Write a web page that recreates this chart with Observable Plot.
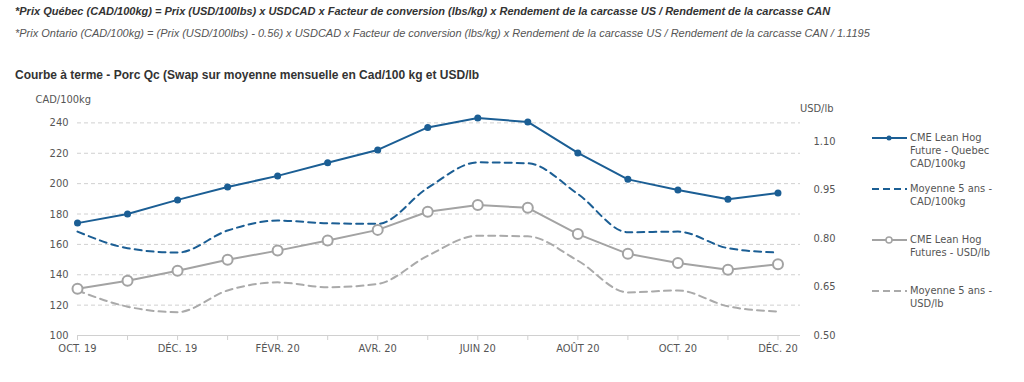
<!DOCTYPE html>
<html><head><meta charset="utf-8">
<script src="https://cdn.jsdelivr.net/npm/d3@7"></script>
<script src="https://cdn.jsdelivr.net/npm/@observablehq/plot@0.6"></script>
<style>
body{margin:0;background:#fff;width:1024px;height:382px;overflow:hidden;position:relative;font-family:"Liberation Sans",Arial,sans-serif;}
#h1{position:absolute;left:15px;top:5px;font-size:11px;font-weight:bold;font-style:italic;color:#333;white-space:nowrap;}
#h2{position:absolute;left:15px;top:27px;font-size:11px;font-style:italic;color:#555;white-space:nowrap;}
#title{position:absolute;left:15px;top:68px;font-size:12px;font-weight:bold;color:#333;white-space:nowrap;}
#chart{position:absolute;left:0;top:85px;}
.leg{position:absolute;left:872px;font-family:"DejaVu Sans Condensed","DejaVu Sans",sans-serif;font-size:11px;color:#555;line-height:13px;}
.leg svg{position:absolute;left:0;top:0;}
.leg div{position:absolute;left:38px;top:0;white-space:nowrap;}
</style></head>
<body>
<div id="h1">*Prix Québec (CAD/100kg) = Prix (USD/100lbs) x USDCAD x Facteur de conversion (lbs/kg) x Rendement de la carcasse US / Rendement de la carcasse CAN</div>
<div id="h2">*Prix Ontario (CAD/100kg) = (Prix (USD/100lbs) - 0.56) x USDCAD x Facteur de conversion (lbs/kg) x Rendement de la carcasse US / Rendement de la carcasse CAN / 1.1195</div>
<div id="title">Courbe à terme - Porc Qc (Swap sur moyenne mensuelle en Cad/100 kg et USD/lb</div>
<div id="chart"></div>
<script>
const months = ["OCT. 19","NOV. 19","DÉC. 19","JANV. 20","FÉVR. 20","MARS 20","AVR. 20","MAI 20","JUIN 20","JUIL. 20","AOÛT 20","SEPT. 20","OCT. 20","NOV. 20","DÉC. 20"];
const qcFuture = [174, 180, 189.3, 197.8, 205.1, 213.8, 222.2, 237, 243.2, 240.6, 220.2, 202.8, 195.8, 189.7, 193.9];
const qcAvg5 = [168.4, 157.5, 154.6, 169.1, 175.7, 173.9, 173.5, 197.2, 214, 213.4, 193.2, 168, 168.4, 157.5, 154.6];
const usdFuture = [0.644, 0.669, 0.700, 0.734, 0.762, 0.793, 0.826, 0.882, 0.903, 0.894, 0.813, 0.752, 0.724, 0.703, 0.720];
const usdAvg5 = [0.639, 0.589, 0.572, 0.639, 0.664, 0.649, 0.659, 0.746, 0.808, 0.806, 0.731, 0.633, 0.639, 0.590, 0.574];
const leftTicks = [100,120,140,160,180,200,220,240];
const rightTicks = [0.50,0.65,0.80,0.95,1.10];
const legendLabels = ["CME Lean Hog<br>Future - Quebec<br>CAD/100kg","Moyenne 5 ans -<br>CAD/100kg","CME Lean Hog<br>Futures - USD/lb","Moyenne 5 ans -<br>USD/lb"];

const blue = "#1b5e94", grey = "#a3a3a3", greyD = "#aaaaaa";
const L0 = 100, L1 = 260, R0 = 0.5, R1 = 1.25;
const toLeft = v => L0 + (v - R0) / (R1 - R0) * (L1 - L0);
const fromLeft = v => R0 + (v - L0) / (L1 - L0) * (R1 - R0);

const data = months.map((m, i) => ({i, m, qc: qcFuture[i], qcA: qcAvg5[i], usd: toLeft(usdFuture[i]), usdA: toLeft(usdAvg5[i])}));
const idx = d3.range(months.length);

const chart = Plot.plot({
  width: 1024, height: 297,
  marginLeft: 77, marginRight: 224, marginTop: 7, marginBottom: 47,
  style: {fontFamily: '"DejaVu Sans Condensed","DejaVu Sans",sans-serif', fontSize: "11px", color: "#555", background: "#fff"},
  x: {domain: [0, 14.45], axis: null},
  y: {domain: [L0, L1], axis: null},
  marks: [
    Plot.gridY(leftTicks.filter(t => t > 100), {stroke: "#d0d0d0", strokeOpacity: 1, strokeDasharray: "4,3"}),
    Plot.ruleY([100], {stroke: "#d0d0d0"}),
    Plot.axisX(idx, {tickSize: 5, tickFormat: () => "", stroke: "#d0d0d0", label: null}),
    Plot.axisX(idx, {tickSize: 0, tickPadding: 9, tickFormat: i => i % 2 === 0 ? months[i] : "", fill: "#555", label: null}),
    Plot.axisY(leftTicks, {anchor: "left", tickSize: 0, tickPadding: 9, fill: "#555", label: null}),
    Plot.axisY(rightTicks.map(toLeft), {anchor: "right", tickSize: 0, tickPadding: 13, fill: "#555", tickFormat: d => fromLeft(d).toFixed(2), label: null}),
    Plot.text(["CAD/100kg"], {frameAnchor: "top-left", dx: -42, dy: 3, fill: "#555"}),
    Plot.text(["USD/lb"], {frameAnchor: "top-right", dx: 33, dy: 12, fill: "#555"}),
    Plot.line(data, {x: "i", y: "usdA", stroke: greyD, strokeWidth: 2, strokeDasharray: "7,5", curve: "monotone-x"}),
    Plot.line(data, {x: "i", y: "qcA", stroke: blue, strokeWidth: 2, strokeDasharray: "7,5", curve: "monotone-x"}),
    Plot.line(data, {x: "i", y: "usd", stroke: grey, strokeWidth: 2}),
    Plot.line(data, {x: "i", y: "qc", stroke: blue, strokeWidth: 2}),
    Plot.dot(data, {x: "i", y: "usd", r: 5, fill: "#fff", stroke: grey, strokeWidth: 2}),
    Plot.dot(data, {x: "i", y: "qc", r: 3.5, fill: blue})
  ]
});
document.getElementById("chart").appendChild(chart);

// legend
const legTops = [138, 189, 240, 291];
const legStyles = [
  {stroke: blue, dash: null, dot: "fill"},
  {stroke: blue, dash: "7,4", dot: null},
  {stroke: grey, dash: null, dot: "open"},
  {stroke: greyD, dash: "7,4", dot: null}
];
legendLabels.forEach((lab, k) => {
  const d = document.createElement("div");
  d.className = "leg";
  d.style.top = (legTops[k] - 7) + "px";
  const s = legStyles[k];
  let svg = `<svg width="36" height="14"><line x1="0" x2="35" y1="7" y2="7" stroke="${s.stroke}" stroke-width="2" ${s.dash ? `stroke-dasharray="${s.dash}"` : ""}/>`;
  if (s.dot === "fill") svg += `<circle cx="17" cy="7" r="2.5" fill="${s.stroke}"/>`;
  if (s.dot === "open") svg += `<circle cx="17" cy="7" r="3" fill="#fff" stroke="${s.stroke}" stroke-width="1.5"/>`;
  svg += `</svg>`;
  d.innerHTML = svg + `<div>${lab}</div>`;
  document.body.appendChild(d);
});
</script>
</body></html>
